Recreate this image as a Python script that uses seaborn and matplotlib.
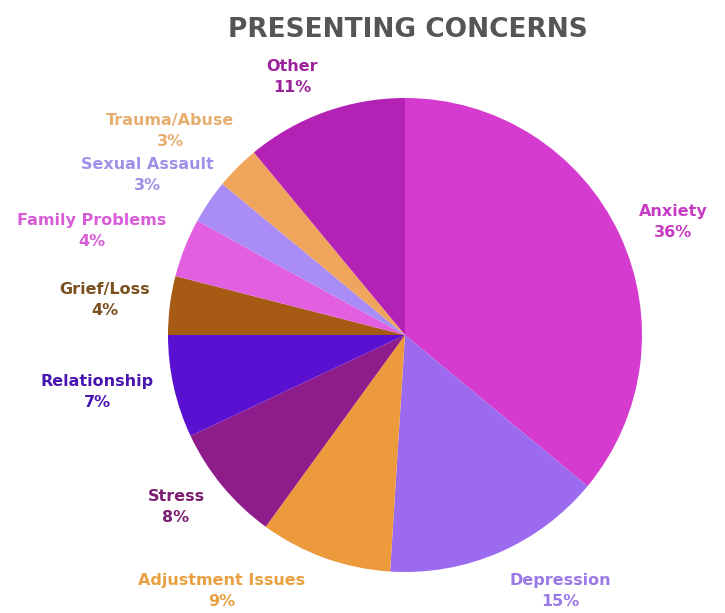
import matplotlib
matplotlib.use("Agg")
import matplotlib.pyplot as plt
import seaborn as sns

sns.set_theme(style="white")
plt.rcParams['font.family'] = ['DejaVu Sans']

categories = ["Anxiety", "Depression", "Adjustment Issues", "Stress", "Relationship",
              "Grief/Loss", "Family Problems", "Sexual Assault", "Trauma/Abuse", "Other"]
values = [36, 15, 9, 8, 7, 4, 4, 3, 3, 11]
pct_labels = ["36%", "15%", "9%", "8%", "7%", "4%", "4%", "3%", "3%", "11%"]

wedge_colors = ["#D53BCF", "#9B6AEF", "#EC9A3B", "#8E1D8B", "#5A10D0",
                "#A65A14", "#E260E0", "#A98CF6", "#EFA65C", "#B421B5"]
label_colors = ["#C63BC2", "#9A78E6", "#E8A040", "#7A1F72", "#4A16B0",
                "#7A5020", "#D85CD8", "#A090E8", "#E6AE6E", "#9C229C"]

# label centre positions in pixels (x, y from top)
label_pos = [(673, 222), (560, 591), (222, 591), (176, 507), (97, 392),
             (105, 300), (92, 231), (147, 175), (170, 131), (292, 77)]

W, H = 725, 613
fig = plt.figure(figsize=(W / 100, H / 100), dpi=100)
fig.patch.set_facecolor("white")

cx, cy, r = 405, 335, 237
ax = fig.add_axes([(cx - r) / W, (H - cy - r) / H, 2 * r / W, 2 * r / H])
ax.pie(values, colors=wedge_colors, startangle=90, counterclock=False,
       radius=1.0, wedgeprops=dict(linewidth=0))
ax.set_xlim(-1, 1)
ax.set_ylim(-1, 1)
ax.set_aspect("equal")
ax.axis("off")

fig.text(408 / W, 1 - 30 / H, "PRESENTING CONCERNS", ha="center", va="center",
         fontsize=19, fontweight="bold", color="#555555")

for cat, pct, col, (px, py) in zip(categories, pct_labels, label_colors, label_pos):
    fig.text(px / W, 1 - py / H, f"{cat}\n{pct}", ha="center", va="center",
             fontsize=11.5, fontweight="bold", color=col, linespacing=1.55)

fig.savefig("out.png", dpi=100, facecolor="white")
